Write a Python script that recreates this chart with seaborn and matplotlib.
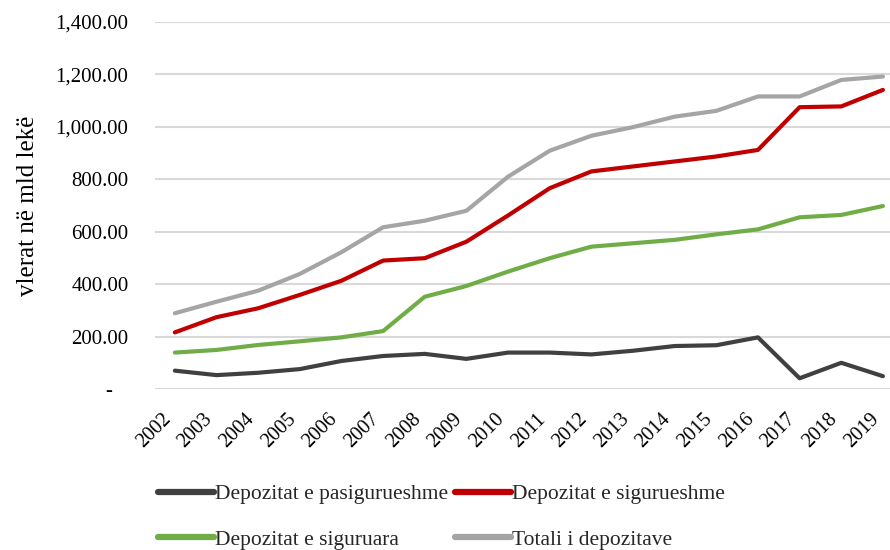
import matplotlib
matplotlib.use("Agg")
import matplotlib.pyplot as plt
from matplotlib.lines import Line2D
import seaborn as sns
import pandas as pd

years = [str(y) for y in range(2002, 2020)]
pasigurueshme = [70, 53, 62, 76, 107, 126, 134, 115, 139, 139, 132, 146, 164, 167, 197, 41, 100, 49]
sigurueshme = [216, 274, 308, 359, 413, 490, 499, 562, 662, 766, 830, 849, 868, 887, 912, 1075, 1078, 1141]
siguruara = [139, 149, 168, 182, 197, 221, 352, 393, 448, 499, 543, 556, 569, 590, 609, 655, 664, 698]
totali = [289, 333, 375, 439, 522, 617, 642, 680, 810, 909, 966, 999, 1039, 1061, 1116, 1116, 1179, 1192]

series_names = ["Depozitat e pasigurueshme", "Depozitat e sigurueshme",
                "Depozitat e siguruara", "Totali i depozitave"]
series_vals = [pasigurueshme, sigurueshme, siguruara, totali]
colors = ["#404040", "#c00000", "#70ad47", "#a5a5a5"]
y_ticks = [0, 200, 400, 600, 800, 1000, 1200, 1400]
y_ticklabels = ["-   ", "200.00", "400.00", "600.00", "800.00", "1,000.00", "1,200.00", "1,400.00"]

rows = []
for name, vals in zip(series_names, series_vals):
    for i, (yr, v) in enumerate(zip(years, vals)):
        rows.append({"idx": i, "year": yr, "value": v, "series": name})
df = pd.DataFrame(rows)

sns.set_theme(style="white")
plt.rcParams["font.family"] = ["Liberation Serif", "DejaVu Serif"]

fig = plt.figure(figsize=(8.9, 5.5), dpi=100)
ax = fig.add_axes([0.174, 0.2927, 0.826, 0.6673])

sns.lineplot(data=df, x="idx", y="value", hue="series", hue_order=series_names,
             palette=colors, linewidth=3.0, ax=ax, legend=False, sort=False)

ax.set_xlim(-0.48, 17.17)
ax.set_ylim(0, 1400)
ax.set_yticks(y_ticks)
ax.set_yticklabels(y_ticklabels, fontsize=15, color="#000000")
ax.set_xticks(range(len(years)))
ax.set_xticklabels(years, fontsize=14.5, rotation=45, ha="right", color="#000000")
ax.tick_params(axis="y", length=0, pad=19)
ax.tick_params(axis="x", length=0, pad=15)
ax.grid(axis="y", color="#d9d9d9", linewidth=1.5)
ax.set_axisbelow(True)
for s in ax.spines.values():
    s.set_visible(False)
ax.set_xlabel("")
ax.set_ylabel("vlerat në mld lekë", fontsize=18, color="#000000")
ax.yaxis.set_label_coords(-0.158, 0.5)

# legend order: row-wise as in reference (matplotlib fills columns first)
order = [0, 2, 1, 3]
handles = [Line2D([], [], color=colors[i], linewidth=4.5, solid_capstyle="round") for i in order]
labels = [series_names[i] for i in order]
fig.legend(handles, labels, ncol=2, loc="upper left",
           bbox_to_anchor=(0.178, 0.12), frameon=False, fontsize=15.5,
           handlelength=2.6, handletextpad=0.05, columnspacing=0.3,
           labelspacing=1.2, borderaxespad=0, borderpad=0)

fig.savefig("out.png", dpi=100)
